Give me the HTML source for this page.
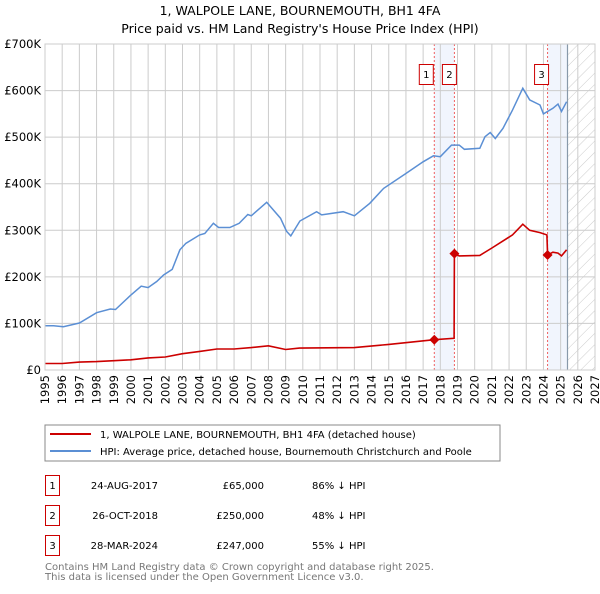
<!DOCTYPE html>
<html><head><meta charset="utf-8"><style>
body{margin:0;background:#fff;font-family:"DejaVu Sans","Liberation Sans",sans-serif;}
svg text{font-family:"DejaVu Sans","Liberation Sans",sans-serif;}
</style></head><body>
<svg id="c" width="600" height="590" xmlns="http://www.w3.org/2000/svg">
<defs><pattern id="hatch" width="8" height="8" patternUnits="userSpaceOnUse" patternTransform="rotate(45)"><line x1="0" y1="0" x2="0" y2="8" stroke="#ccc" stroke-width="1"/></pattern></defs>
<text x="300" y="15" text-anchor="middle" font-size="12.5">1, WALPOLE LANE, BOURNEMOUTH, BH1 4FA</text>
<text x="300" y="33" text-anchor="middle" font-size="12.5">Price paid vs. HM Land Registry's House Price Index (HPI)</text>
<g id="plot"></g>
<rect x="45" y="425" width="455" height="36" fill="#fff" stroke="#888"/>
<line x1="50" y1="434" x2="91" y2="434" stroke="#cc0000" stroke-width="2"/>
<text x="100" y="438" font-size="10">1, WALPOLE LANE, BOURNEMOUTH, BH1 4FA (detached house)</text>
<line x1="50" y1="451" x2="91" y2="451" stroke="#5b8fd4" stroke-width="2"/>
<text x="100" y="455" font-size="10">HPI: Average price, detached house, Bournemouth Christchurch and Poole</text>
<g font-size="10">
<rect x="45.5" y="475.5" width="14" height="20" fill="none" stroke="#cc0000"/><text x="52.5" y="489" text-anchor="middle">1</text>
<text x="158" y="489" text-anchor="end">24-AUG-2017</text><text x="264" y="489" text-anchor="end">£65,000</text><text x="312" y="489">86% ↓ HPI</text>
<rect x="45.5" y="505.5" width="14" height="20" fill="none" stroke="#cc0000"/><text x="52.5" y="519" text-anchor="middle">2</text>
<text x="158" y="519" text-anchor="end">26-OCT-2018</text><text x="264" y="519" text-anchor="end">£250,000</text><text x="312" y="519">48% ↓ HPI</text>
<rect x="45.5" y="535.5" width="14" height="20" fill="none" stroke="#cc0000"/><text x="52.5" y="549" text-anchor="middle">3</text>
<text x="158" y="549" text-anchor="end">28-MAR-2024</text><text x="264" y="549" text-anchor="end">£247,000</text><text x="312" y="549">55% ↓ HPI</text>
</g>
<text x="45" y="570" font-size="10" fill="#777">Contains HM Land Registry data © Crown copyright and database right 2025.</text>
<text x="45" y="580" font-size="10" fill="#777">This data is licensed under the Open Government Licence v3.0.</text>
</svg>
<script>
const hpiYears=[1995,1995.5,1996.07,1997,1998,1998.8,1999.1,2000,2000.6,2001,2001.5,2001.9,2002.4,2002.85,2003.2,2004,2004.3,2004.8,2005.1,2005.75,2006.3,2006.8,2007,2007.9,2008.7,2009.05,2009.3,2009.83,2010.8,2011.1,2012.35,2013,2013.9,2014.7,2016,2017,2017.6,2018,2018.65,2019.1,2019.4,2020.3,2020.6,2020.9,2021.2,2021.65,2022.2,2022.8,2023.2,2023.8,2024,2024.55,2024.85,2025.05,2025.35];
const hpiValues=[95,95,93,101,123,131,130,161,180,177,190,204,216,258,272,290,293,315,306,306,315,334,331,360,326,298,288,320,340,333,340,331,358,390,422,447,460,458,483,483,474,476,501,510,497,519,558,605,580,569,550,562,571,555,576];
const redYears=[1995,1996,1997,1998,1999,2000,2001,2002,2003,2004,2005,2006,2007,2008,2009,2009.8,2013,2015,2017.65,2018.8,2018.82,2019.1,2020.3,2021,2022.2,2022.8,2023.2,2023.8,2024.2,2024.24,2024.55,2024.85,2025.05,2025.35];
const redValues=[14,14,17,18,20,22,26,28,35,40,45,45,48,52,44,47,48,55,65,68,250,245,246,262,290,313,300,295,290,247,253,251,245,258];
const saleYears=[2017.65,2018.82,2024.24];
const saleValues=[65,250,247];
const saleLabels=["1","2","3"];
const yTicks=[0,100,200,300,400,500,600,700];
const yTickLabels=["£0","£100K","£200K","£300K","£400K","£500K","£600K","£700K"];
const xTicks=[1995,1996,1997,1998,1999,2000,2001,2002,2003,2004,2005,2006,2007,2008,2009,2010,2011,2012,2013,2014,2015,2016,2017,2018,2019,2020,2021,2022,2023,2024,2025,2026,2027];
const dataEnd=2025.4;
const X0=45,X1=595,Y0=370,Y1=44;
const xs=y=>X0+(y-1995)/(2027-1995)*(X1-X0);
const ys=v=>Y0-v/700*(Y0-Y1);
const NS="http://www.w3.org/2000/svg";
const g=document.getElementById('plot');
function mk(t,a){const e=document.createElementNS(NS,t);for(const k in a)e.setAttribute(k,a[k]);g.appendChild(e);return e;}
let e=mk('rect',{x:xs(saleYears[0]),y:Y1,width:xs(saleYears[1])-xs(saleYears[0]),height:Y0-Y1,fill:'#eef3fc',opacity:0.8});


e=mk('rect',{x:xs(saleYears[2]),y:Y1,width:xs(dataEnd)-xs(saleYears[2]),height:Y0-Y1,fill:'#eef3fc',opacity:0.8});


e=mk('rect',{x:xs(dataEnd),y:Y1,width:X1-xs(dataEnd),height:Y0-Y1,fill:'url(#hatch)'});


yTicks.forEach((v,i)=>{
 let l=mk('line',{x1:X0,x2:X1,y1:ys(v),y2:ys(v),stroke:'#ccc'});
 
 
 let t=mk('text',{x:X0-4,y:ys(v)+4,'text-anchor':'end','font-size':'11.5'});t.textContent=yTickLabels[i];
 
 
});
xTicks.forEach(y=>{
 let l=mk('line',{x1:xs(y),x2:xs(y),y1:Y1,y2:Y0,stroke:'#ccc'});
 
 
 let t=mk('text',{x:0,y:0,'text-anchor':'end','font-size':'11.5',transform:`translate(${xs(y)+4},${Y0+5}) rotate(-90)`});t.textContent=y;
 
 
});
e=mk('line',{x1:xs(dataEnd),x2:xs(dataEnd),y1:Y1,y2:Y0,stroke:'#8899aa','stroke-width':1.2});


saleYears.forEach((y,i)=>{
 let l=mk('line',{x1:xs(y),x2:xs(y),y1:Y1,y2:Y0,stroke:'#f06060','stroke-dasharray':'2,2'});
 
 
 const bx=xs(y)+(i===0?-10:(i===1?-7:-8));
 let r=mk('rect',{x:bx-5,y:64.5,width:14,height:20,fill:'#fff',stroke:'#cc0000'});
 
 
 let t=mk('text',{x:bx+2,y:78,'text-anchor':'middle','font-size':'10'});t.textContent=saleLabels[i];
 
 
});
const pts=(xa,va)=>xa.map((x,i)=>xs(x).toFixed(1)+','+ys(va[i]).toFixed(1)).join(' ');
e=mk('polyline',{points:pts(hpiYears,hpiValues),fill:'none',stroke:'#5b8fd4','stroke-width':1.5});


e=mk('polyline',{points:pts(redYears,redValues),fill:'none',stroke:'#cc0000','stroke-width':1.6});


saleYears.forEach((y,i)=>{
 const cx=xs(y),cy=ys(saleValues[i]);
 let p=mk('polygon',{points:`${cx},${cy-5} ${cx+5},${cy} ${cx},${cy+5} ${cx-5},${cy}`,fill:'#cc0000'});
 
 
});
e=mk('rect',{x:X0,y:Y1,width:X1-X0,height:Y0-Y1,fill:'none',stroke:'#ccc'});


</script>
</body></html>
